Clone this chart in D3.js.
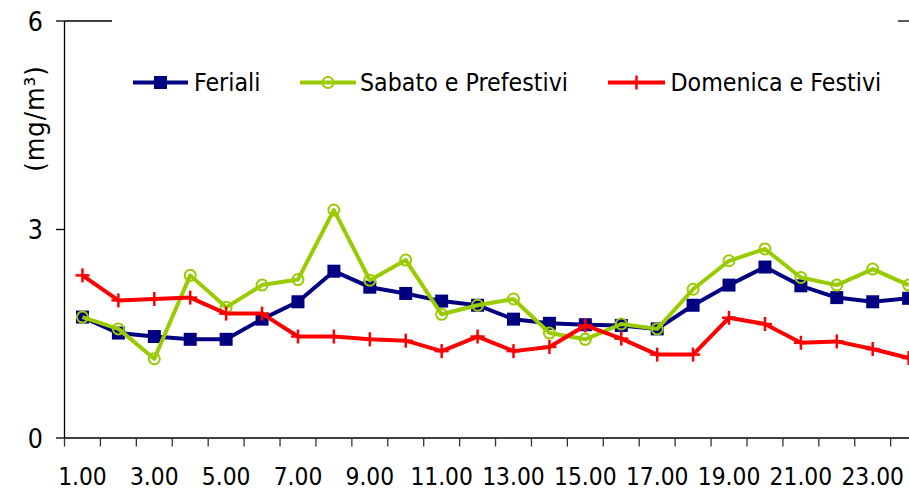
<!DOCTYPE html>
<html>
<head>
<meta charset="utf-8">
<script src="https://cdn.jsdelivr.net/npm/d3@7"></script>
<style>
  html, body { margin: 0; padding: 0; background: #fff; }
  svg { display: block; }
  text { font-family: "DejaVu Sans Condensed", "DejaVu Sans", sans-serif; fill: #000; }
</style>
</head>
<body>
<svg id="chart" width="909" height="490"></svg>
<script>
const categories = ["1.00","2.00","3.00","4.00","5.00","6.00","7.00","8.00","9.00","10.00","11.00","12.00",
                    "13.00","14.00","15.00","16.00","17.00","18.00","19.00","20.00","21.00","22.00","23.00","24.00"];
const feriali   = [1.74,1.51,1.46,1.42,1.42,1.71,1.96,2.40,2.17,2.08,1.97,1.91,1.71,1.65,1.63,1.62,1.57,1.91,2.20,2.46,2.19,2.02,1.96,2.01];
const sabato    = [1.74,1.57,1.14,2.34,1.88,2.20,2.28,3.28,2.27,2.56,1.78,1.91,2.00,1.51,1.42,1.64,1.57,2.14,2.55,2.72,2.31,2.20,2.43,2.20];
const domenica  = [2.34,1.98,2.00,2.02,1.79,1.79,1.46,1.46,1.42,1.40,1.25,1.46,1.25,1.31,1.62,1.43,1.20,1.20,1.73,1.64,1.37,1.39,1.28,1.15];
const seriesNames = ["Feriali","Sabato e Prefestivi","Domenica e Festivi"];
const yTicks = [0, 3, 6];
const xLabelCats = categories.filter((c, i) => i % 2 === 0);
const yTitle = "(mg/m³)";

const svg = d3.select("#chart");
const plotLeft = 64.5, step = 35.92, plotTop = 21, plotBottom = 438;

const x = d3.scaleBand().domain(categories).range([plotLeft, plotLeft + step * categories.length]).padding(0);
const y = d3.scaleLinear().domain([0, 6]).range([plotBottom, plotTop]);
const cx = c => x(c) + x.bandwidth() / 2;

const axisColor = "#000";
svg.append("line").attr("x1", plotLeft).attr("x2", plotLeft).attr("y1", y(6)).attr("y2", y(0))
  .attr("stroke", axisColor).attr("stroke-width", 1.3);
yTicks.forEach(t => {
  svg.append("line").attr("x1", plotLeft - 8.5).attr("x2", plotLeft).attr("y1", y(t)).attr("y2", y(t))
    .attr("stroke", axisColor).attr("stroke-width", 1.3);
  svg.append("text").attr("x", 43).attr("y", y(t)).attr("dy", "0.36em")
    .attr("text-anchor", "end").attr("font-size", 26.5).text(t);
});
svg.append("line").attr("x1", plotLeft).attr("x2", 112).attr("y1", y(6)).attr("y2", y(6))
  .attr("stroke", axisColor).attr("stroke-width", 1.3);
svg.append("line").attr("x1", 898).attr("x2", 909).attr("y1", y(6)).attr("y2", y(6))
  .attr("stroke", axisColor).attr("stroke-width", 1.3);

svg.append("line").attr("x1", plotLeft).attr("x2", 909).attr("y1", y(0)).attr("y2", y(0))
  .attr("stroke", axisColor).attr("stroke-width", 1.3);
const bounds = categories.map(c => x(c)).concat([x(categories[categories.length - 1]) + x.bandwidth()]);
bounds.forEach(b => {
  svg.append("line").attr("x1", b).attr("x2", b).attr("y1", y(0)).attr("y2", y(0) + 8.5)
    .attr("stroke", "#333").attr("stroke-width", 1.3);
});
xLabelCats.forEach(c => {
  svg.append("text").attr("x", cx(c)).attr("y", 484.5).attr("text-anchor", "middle")
    .attr("font-size", 24.3).text(c);
});

svg.append("text").attr("transform", "translate(44,118.5) rotate(-90)")
  .attr("text-anchor", "middle").attr("font-family", "DejaVu Sans").attr("font-size", 27)
  .attr("letter-spacing", 1).text(yTitle);

const colors = ["#000080", "#99CC00", "#FF0000"];
const data = [feriali, sabato, domenica];
const line = d3.line().x((d, i) => cx(categories[i])).y(d => y(d));

function marker(g, type, px, py, color) {
  if (type === 0) {
    g.append("rect").attr("x", px - 6.5).attr("y", py - 6.5).attr("width", 13).attr("height", 13)
      .attr("fill", color);
  } else if (type === 1) {
    g.append("circle").attr("cx", px).attr("cy", py).attr("r", 5.5)
      .attr("fill", "none").attr("stroke", color).attr("stroke-width", 2);
  } else {
    g.append("line").attr("x1", px - 7).attr("x2", px + 7).attr("y1", py).attr("y2", py)
      .attr("stroke", color).attr("stroke-width", 2.5);
    g.append("line").attr("x1", px).attr("x2", px).attr("y1", py - 7).attr("y2", py + 7)
      .attr("stroke", color).attr("stroke-width", 2.5);
  }
}

data.forEach((vals, s) => {
  const g = svg.append("g");
  g.append("path").datum(vals).attr("d", line).attr("fill", "none")
    .attr("stroke", colors[s]).attr("stroke-width", 4).attr("stroke-linejoin", "round");
  vals.forEach((v, i) => marker(g, s, cx(categories[i]), y(v), colors[s]));
});

const legendItems = [
  { x1: 133, x2: 188, tx: 194 },
  { x1: 300, x2: 356, tx: 360 },
  { x1: 608, x2: 665, tx: 670.5 }
];
const ly = 82.5;
legendItems.forEach((it, s) => {
  const g = svg.append("g");
  g.append("line").attr("x1", it.x1).attr("x2", it.x2).attr("y1", ly).attr("y2", ly)
    .attr("stroke", colors[s]).attr("stroke-width", 4);
  marker(g, s, (it.x1 + it.x2) / 2, ly, colors[s]);
  g.append("text").attr("x", it.tx).attr("y", 90.7).attr("font-size", 24.7).text(seriesNames[s]);
});
</script>
</body>
</html>
